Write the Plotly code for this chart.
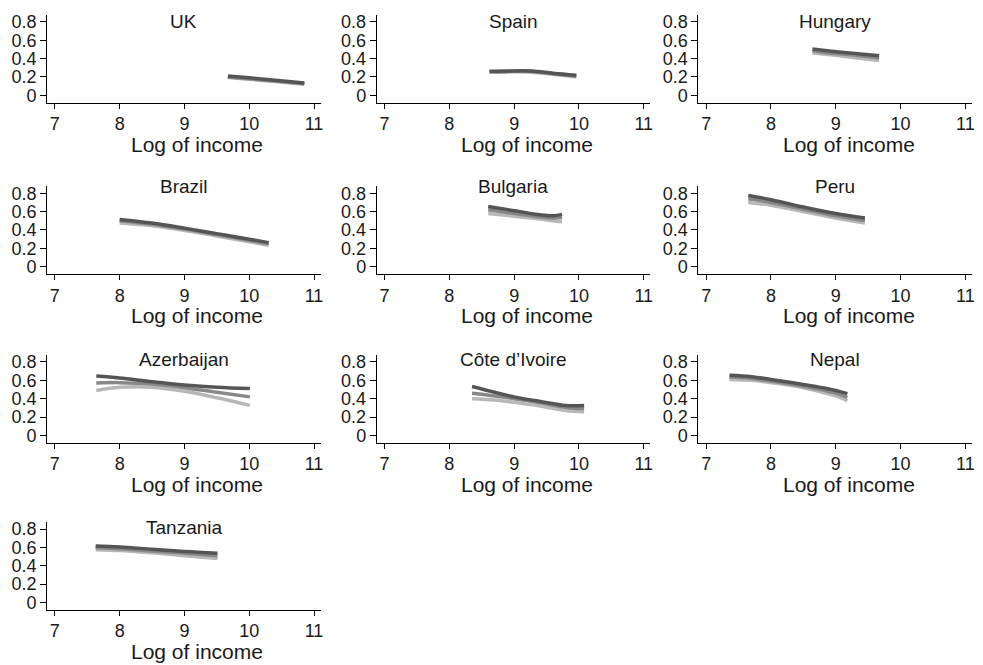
import plotly.graph_objects as go

W, H = 983, 665

countries = ["UK", "Spain", "Hungary", "Brazil", "Bulgaria", "Peru",
             "Azerbaijan", "Côte d’Ivoire", "Nepal", "Tanzania"]

# Log of income (x) and predicted values for three groups (dark, medium, light)
uk_x = [9.67, 10.0, 10.4, 10.85]
uk_dark = [0.21, 0.19, 0.165, 0.135]
uk_mid = [0.20, 0.18, 0.155, 0.125]
uk_light = [0.195, 0.175, 0.15, 0.12]

spain_x = [8.62, 8.9, 9.27, 9.6, 9.96]
spain_dark = [0.262, 0.265, 0.265, 0.24, 0.218]
spain_mid = [0.257, 0.26, 0.26, 0.235, 0.21]
spain_light = [0.25, 0.255, 0.252, 0.228, 0.2]

hungary_x = [8.64, 8.8, 9.0, 9.3, 9.67]
hungary_dark = [0.505, 0.49, 0.475, 0.455, 0.43]
hungary_mid = [0.485, 0.47, 0.455, 0.435, 0.405]
hungary_light = [0.46, 0.45, 0.435, 0.41, 0.38]

brazil_x = [8.0, 8.5, 9.0, 9.5, 10.0, 10.3]
brazil_dark = [0.515, 0.475, 0.42, 0.36, 0.30, 0.262]
brazil_mid = [0.50, 0.462, 0.41, 0.35, 0.288, 0.25]
brazil_light = [0.475, 0.445, 0.395, 0.335, 0.272, 0.232]

bulgaria_x = [8.6, 9.0, 9.4, 9.6, 9.74]
bulgaria_dark = [0.655, 0.61, 0.565, 0.555, 0.57]
bulgaria_mid = [0.62, 0.58, 0.54, 0.53, 0.535]
bulgaria_light = [0.58, 0.55, 0.52, 0.50, 0.49]

peru_x = [7.65, 8.0, 8.5, 9.0, 9.45]
peru_dark = [0.775, 0.73, 0.65, 0.58, 0.53]
peru_mid = [0.74, 0.70, 0.625, 0.555, 0.50]
peru_light = [0.70, 0.67, 0.60, 0.53, 0.475]

azer_x = [7.64, 8.0, 8.5, 9.0, 9.5, 10.01]
azer_dark = [0.647, 0.625, 0.585, 0.55, 0.525, 0.51]
azer_mid = [0.57, 0.575, 0.56, 0.52, 0.47, 0.42]
azer_light = [0.49, 0.525, 0.525, 0.48, 0.41, 0.327]

civ_x = [8.35, 8.7, 9.0, 9.4, 9.8, 10.08]
civ_dark = [0.533, 0.47, 0.42, 0.37, 0.325, 0.325]
civ_mid = [0.46, 0.43, 0.40, 0.355, 0.305, 0.29]
civ_light = [0.40, 0.385, 0.36, 0.32, 0.27, 0.255]

nepal_x = [7.36, 7.7, 8.0, 8.5, 9.0, 9.18]
nepal_dark = [0.655, 0.64, 0.61, 0.555, 0.49, 0.455]
nepal_mid = [0.635, 0.62, 0.59, 0.535, 0.46, 0.415]
nepal_light = [0.61, 0.60, 0.575, 0.52, 0.43, 0.38]

tanz_x = [7.63, 8.0, 8.5, 9.0, 9.51]
tanz_dark = [0.615, 0.605, 0.58, 0.555, 0.535]
tanz_mid = [0.595, 0.585, 0.56, 0.535, 0.51]
tanz_light = [0.575, 0.565, 0.54, 0.51, 0.48]

x_ticks = [7, 8, 9, 10, 11]
y_ticks = [0, 0.2, 0.4, 0.6, 0.8]
y_tick_labels = ["0", "0.2", "0.4", "0.6", "0.8"]
x_title = "Log of income"

panels = [
    (uk_x, uk_dark, uk_mid, uk_light),
    (spain_x, spain_dark, spain_mid, spain_light),
    (hungary_x, hungary_dark, hungary_mid, hungary_light),
    (brazil_x, brazil_dark, brazil_mid, brazil_light),
    (bulgaria_x, bulgaria_dark, bulgaria_mid, bulgaria_light),
    (peru_x, peru_dark, peru_mid, peru_light),
    (azer_x, azer_dark, azer_mid, azer_light),
    (civ_x, civ_dark, civ_mid, civ_light),
    (nepal_x, nepal_dark, nepal_mid, nepal_light),
    (tanz_x, tanz_dark, tanz_mid, tanz_light),
]

colors = {"dark": "#555555", "mid": "#888888", "light": "#b8b8b8"}

# pixel geometry of panels
col_px = [(47.2, 321.5), (377.9, 652.2), (700.5, 974.8)]
row_px = [(12.6, 101.4), (185.3, 274.1), (355.3, 444.1), (523.6, 612.4)]
title_px = [20, 186, 360, 529]

FONT = "Liberation Sans, Arial, Helvetica, sans-serif"
TXT = "#1a1a1a"

fig = go.Figure()
annotations = []
layout = {}
for i, (cname, (xs, d, m, l)) in enumerate(zip(countries, panels)):
    r, c = divmod(i, 3)
    n = i + 1
    xa = "x" if n == 1 else f"x{n}"
    ya = "y" if n == 1 else f"y{n}"
    for vals, key in ((l, "light"), (m, "mid"), (d, "dark")):
        fig.add_trace(go.Scatter(x=xs, y=vals, mode="lines", xaxis=xa, yaxis=ya,
                                 line=dict(color=colors[key], width=3.5, shape="spline"),
                                 showlegend=False, hoverinfo="skip"))
    x0, x1 = col_px[c]
    y0, y1 = row_px[r]
    common = dict(showline=True, linecolor="black", linewidth=1, ticks="outside",
                  tickcolor="black", tickwidth=1, showgrid=False,
                  zeroline=False, tickfont=dict(family=FONT, size=18, color=TXT),
                  fixedrange=True)
    layout["xaxis" if n == 1 else f"xaxis{n}"] = dict(
        domain=[x0 / W, x1 / W], range=[6.88, 11.1], tickvals=x_ticks,
        anchor=ya, ticklen=5, **common)
    layout["yaxis" if n == 1 else f"yaxis{n}"] = dict(
        domain=[1 - y1 / H, 1 - y0 / H], range=[-0.08, 0.88], tickvals=y_ticks,
        ticktext=y_tick_labels, anchor=xa, ticklen=6, **common)
    cx = (x0 + x1) / 2
    annotations.append(dict(text=cname, x=cx / W, y=1 - title_px[r] / H,
                            xref="paper", yref="paper", showarrow=False,
                            xanchor="center", yanchor="middle",
                            font=dict(family=FONT, size=19, color=TXT)))
    annotations.append(dict(text=x_title, x=(cx + 13.5) / W, y=1 - (y1 + 42) / H,
                            xref="paper", yref="paper", showarrow=False,
                            xanchor="center", yanchor="middle",
                            font=dict(family=FONT, size=21, color=TXT)))

fig.update_layout(width=W, height=H, margin=dict(l=0, r=0, t=0, b=0),
                  paper_bgcolor="white", plot_bgcolor="white",
                  annotations=annotations, **layout)

fig.write_html("out.html", config={"displayModeBar": False},
               post_script="document.body.style.margin='0';document.body.style.padding='0';")
